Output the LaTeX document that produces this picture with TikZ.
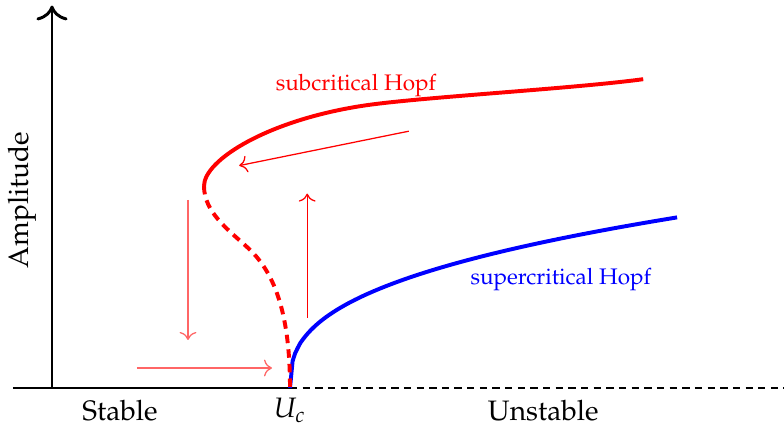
\documentclass[tikz,border=0pt]{standalone}
\usepackage[T1]{fontenc}
\usepackage{mathpazo}
\usepackage{tikz}
\usetikzlibrary{arrows.meta}

\tikzset{
  axis/.style={line width=1.05pt},
  branch/.style={line width=1.4pt},
  jump/.style={-{To[scale=1.1]},red,line width=0.45pt},
  jumplight/.style={-{To[scale=1.1]},red!60,line width=0.45pt}
}

\begin{document}
\begin{tikzpicture}
  \useasboundingbox (-0.65,-0.5) rectangle (9.15,4.85);
  % axes
  \coordinate (O) at (0,0);
  \coordinate (ytop) at (0,4.78);
  \coordinate (xleft) at (-0.49,0);
  \coordinate (Uc) at (2.975,0);
  \coordinate (xright) at (9.15,0);
  \draw[axis,-{To[scale=1.35]}] (O)--(ytop);
  \draw[axis] (xleft)--(Uc);
  \draw[axis,dash pattern=on 2.6pt off 1.9pt] (Uc)--(xright);
  % branches
  \coordinate (fold) at (1.9,2.525);
  \coordinate (knee) at (3.9,3.53);
  \coordinate (subend) at (7.39,3.86);
  \coordinate (mid) at (2.44,1.76);
  \draw[branch,blue] plot[domain=0:4.84,samples=150] ({2.975+\x},{1.19*pow(\x,0.37)});
  \draw[branch,red,dash pattern=on 3pt off 2.2pt] (fold) .. controls (1.9,2.2) and (2.2,1.98) .. (mid)
    .. controls (2.75,1.48) and (2.975,1.0) .. (Uc);
  \draw[branch,red] (fold) .. controls (1.9,2.85) and (2.7,3.35) .. (knee)
    .. controls (4.6,3.635) and (6.5,3.74) .. (subend);
  % hysteresis arrows
  \coordinate (d1) at (1.7,2.35);
  \coordinate (d2) at (1.7,0.6);
  \coordinate (r1) at (1.06,0.25);
  \coordinate (r2) at (2.75,0.25);
  \coordinate (u1) at (3.19,0.875);
  \coordinate (u2) at (3.19,2.43);
  \coordinate (l1) at (4.46,3.21);
  \coordinate (l2) at (2.34,2.78);
  \draw[jumplight] (d1)--(d2);
  \draw[jumplight] (r1)--(r2);
  \draw[jump] (u1)--(u2);
  \draw[jump] (l1)--(l2);
  % labels
  \node[red,font=\footnotesize] (sub) at (3.8,3.775) {subcritical Hopf};
  \node[blue,font=\footnotesize] (sup) at (6.36,1.35) {supercritical Hopf};
  \node[rotate=90] (amp) at (-0.375,2.35) {Amplitude};
  \node (stab) at (0.85,-0.28) {Stable};
  \node (uc) at (2.975,-0.28) {$U_c$};
  \node (unstab) at (6.14,-0.28) {Unstable};
\end{tikzpicture}
\end{document}
